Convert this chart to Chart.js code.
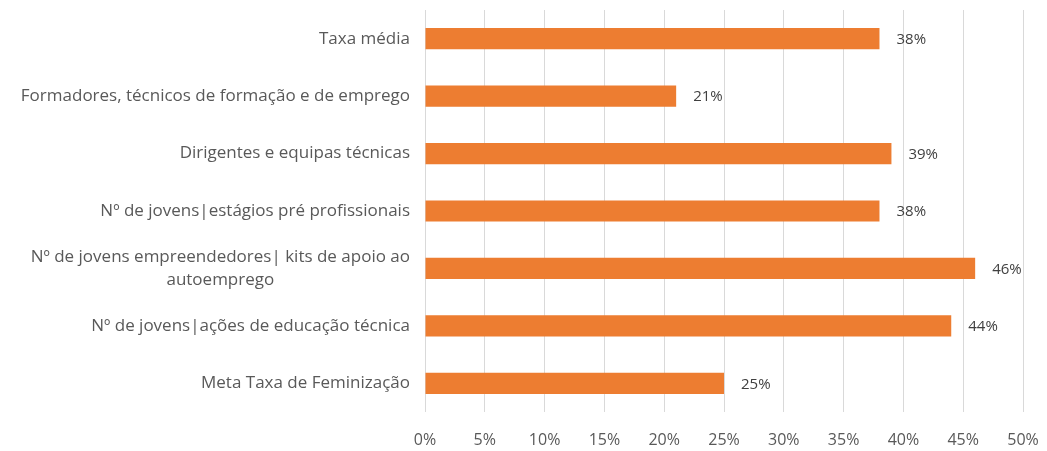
<!DOCTYPE html>
<html>
<head>
<meta charset="utf-8">
<script src="https://cdn.jsdelivr.net/npm/chart.js@4.4.1/dist/chart.umd.min.js"></script>
<style>
  html, body { margin: 0; padding: 0; background: #fff; }
  #wrap { width: 1047px; height: 451px; position: relative; }
</style>
</head>
<body>
<div id="wrap"><canvas id="chart"></canvas></div>
<script>
const categories = [
  'Taxa média',
  'Formadores, técnicos de formação e de emprego',
  'Dirigentes e equipas técnicas',
  'Nº de jovens|estágios pré profissionais',
  ['Nº de jovens empreendedores| kits de apoio ao', 'autoemprego'],
  'Nº de jovens|ações de educação técnica',
  'Meta Taxa de Feminização'
];
const values = [38, 21, 39, 38, 46, 44, 25];
const xTicks = [0, 5, 10, 15, 20, 25, 30, 35, 40, 45, 50];

const FONT = '"Open Sans", Lato, sans-serif';
const TEXT = '#595959';

// left labels: right aligned, multi-line blocks centred on their widest line
const CatLabels = {
  id: 'catLabels',
  afterDraw(chart) {
    const { ctx, scales: { y } } = chart;
    const right = chart.chartArea.left - 15;
    ctx.save();
    ctx.font = '17px ' + FONT;
    ctx.fillStyle = TEXT;
    ctx.textAlign = 'center';
    ctx.textBaseline = 'middle';
    categories.forEach((c, i) => {
      const lines = Array.isArray(c) ? c : [c];
      const w = Math.max(...lines.map(l => ctx.measureText(l).width));
      const cy = y.getPixelForValue(i);
      const lh = 23;
      lines.forEach((l, k) => {
        ctx.fillText(l, right - w / 2, cy + (k - (lines.length - 1) / 2) * lh);
      });
    });
    ctx.restore();
  }
};

const ValueLabels = {
  id: 'valueLabels',
  afterDatasetsDraw(chart) {
    const { ctx } = chart;
    const meta = chart.getDatasetMeta(0);
    ctx.save();
    ctx.font = '15px ' + FONT;
    ctx.fillStyle = '#404040';
    ctx.textAlign = 'left';
    ctx.textBaseline = 'middle';
    meta.data.forEach((bar, i) => {
      ctx.fillText(values[i] + '%', bar.x + 17, bar.y + 1);
    });
    ctx.restore();
  }
};

new Chart(document.getElementById('chart'), {
  type: 'bar',
  data: {
    labels: categories.map((c, i) => i),
    datasets: [{
      data: values,
      backgroundColor: '#ED7D31',
      borderWidth: 0,
      barPercentage: 0.37,
      categoryPercentage: 1
    }]
  },
  options: {
    indexAxis: 'y',
    responsive: true,
    maintainAspectRatio: false,
    animation: false,
    layout: { padding: { top: 10, right: 24, bottom: 0, left: 0 } },
    plugins: { legend: { display: false }, tooltip: { enabled: false } },
    scales: {
      x: {
        min: 0, max: 50,
        afterBuildTicks: s => { s.ticks = xTicks.map(v => ({ value: v })); },
        ticks: { color: TEXT, font: { family: FONT, size: 16 }, padding: 19, callback: v => v + '%' },
        grid: { color: '#d9d9d9', drawTicks: false },
        border: { display: false },
        afterFit: s => { s.height = 39; s.paddingLeft = 0; s.paddingRight = 0; }
      },
      y: {
        ticks: { display: false },
        grid: { display: false },
        border: { display: false },
        afterFit: s => { s.width = 425; }
      }
    }
  },
  plugins: [CatLabels, ValueLabels]
});
</script>
</body>
</html>
